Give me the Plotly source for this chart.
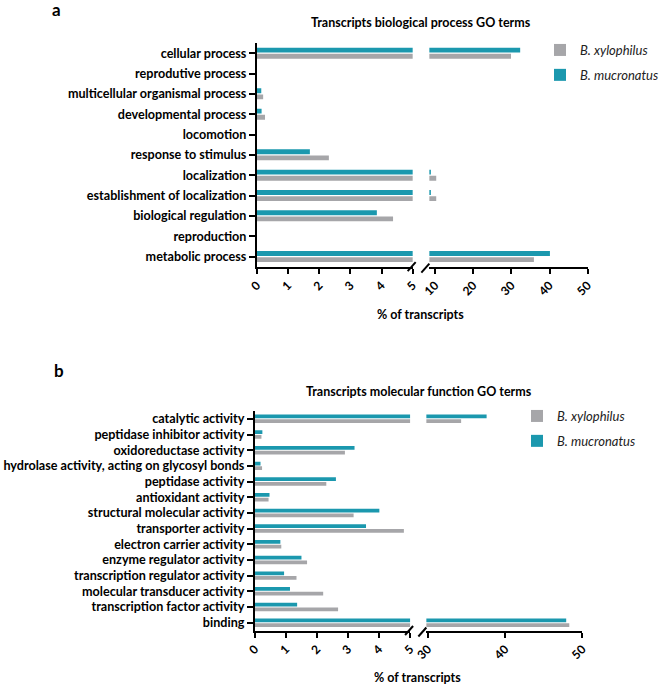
import plotly.graph_objects as go

W, H = 664, 685

# ---------------- data ----------------
bp_terms = ["cellular process", "reprodutive process", "multicellular organismal process",
            "developmental process", "locomotion", "response to stimulus", "localization",
            "establishment of localization", "biological regulation", "reproduction",
            "metabolic process"]
bp_xylophilus = [29.9, 0, 0.20, 0.26, 0, 2.31, 10.3, 10.3, 4.37, 0, 35.9]
bp_mucronatus = [32.3, 0, 0.14, 0.15, 0, 1.70, 8.9, 8.9, 3.85, 0, 40.1]

mf_terms = ["catalytic activity", "peptidase inhibitor activity", "oxidoreductase activity",
            "hydrolase activity, acting on glycosyl bonds", "peptidase activity",
            "antioxidant activity", "structural molecular activity", "transporter activity",
            "electron carrier activity", "enzyme regulator activity",
            "transcription regulator activity", "molecular transducer activity",
            "transcription factor activity", "binding"]
mf_xylophilus = [34.3, 0.21, 2.90, 0.23, 2.30, 0.44, 3.18, 4.80, 0.85, 1.68, 1.34, 2.20, 2.68, 48.3]
mf_mucronatus = [37.6, 0.24, 3.21, 0.18, 2.61, 0.47, 4.01, 3.58, 0.82, 1.50, 0.94, 1.13, 1.36, 47.9]

left_ticks = [0, 1, 2, 3, 4, 5]
bp_right_ticks = [10, 20, 30, 40, 50]
mf_right_ticks = [30, 40, 50]

series_names = ["B. xylophilus", "B. mucronatus"]
series_colors = ["#a6a6a9", "#1b98ae"]

FONT = "Lato"


def px(x):
    return x / W


def py(y):
    return 1 - y / H


fig = go.Figure()

# ---------------- panel a ----------------
for i, (name, vals) in enumerate(zip(series_names, [bp_xylophilus, bp_mucronatus])):
    for xa in ["x", "x2"]:
        fig.add_trace(go.Bar(
            y=bp_terms, x=vals, orientation="h", name=name,
            marker=dict(color=series_colors[i], line=dict(width=0)),
            xaxis=xa, yaxis="y", legend="legend", legendgroup=name,
            showlegend=(xa == "x"), offsetgroup=str(i)))

# ---------------- panel b ----------------
for i, (name, vals) in enumerate(zip(series_names, [mf_xylophilus, mf_mucronatus])):
    for xa in ["x3", "x4"]:
        fig.add_trace(go.Bar(
            y=mf_terms, x=vals, orientation="h", name=name,
            marker=dict(color=series_colors[i], line=dict(width=0)),
            xaxis=xa, yaxis="y2", legend="legend2", legendgroup=name + "b",
            showlegend=(xa == "x3"), offsetgroup=str(i)))

tickfont = dict(family=FONT, size=12, color="black", weight="bold")
catfont = dict(family=FONT, size=12.6, color="black", weight="bold")

xcommon = dict(showline=True, linecolor="black", linewidth=2, ticks="outside",
               ticklen=5, tickwidth=1.5, tickcolor="black", showgrid=False,
               zeroline=False, tickangle=-45, tickfont=tickfont, fixedrange=True)
ycommon = dict(showline=True, linecolor="black", linewidth=2, ticks="outside",
               ticklen=6, tickwidth=2, tickcolor="black", showgrid=False,
               zeroline=False, tickfont=catfont, categoryorder="array", fixedrange=True)

# geometry (pixels in the screenshot)
a_top, a_bot = 43.0, 266.7
b_top, b_bot = 411.0, 630.5
a_x0, a_x5 = 257.3, 413.3
a_r0, a_r1 = 430.0, 588.6
b_x0, b_x5 = 255.3, 410.7
b_r0, b_r1 = 427.0, 583.3

legfont = dict(family=FONT, size=13, color="#222", style="italic")

fig.update_layout(
    width=W, height=H, margin=dict(l=0, r=0, t=0, b=0),
    paper_bgcolor="white", plot_bgcolor="white", template="none",
    barmode="group", bargap=0.4, bargroupgap=0.2,
    xaxis=dict(xcommon, domain=[px(a_x0), px(a_x5)], range=[0, 5], anchor="y",
               tickvals=left_ticks),
    xaxis2=dict(xcommon, domain=[px(a_r0), px(a_r1)], range=[8.5, 50], anchor="y",
                tickvals=bp_right_ticks),
    yaxis=dict(ycommon, domain=[py(a_bot), py(a_top)], anchor="x",
               categoryarray=list(reversed(bp_terms))),
    xaxis3=dict(xcommon, domain=[px(b_x0), px(b_x5)], range=[0, 5], anchor="y2",
                tickvals=left_ticks),
    xaxis4=dict(xcommon, domain=[px(b_r0), px(b_r1)], range=[29.8, 50], anchor="y2",
                tickvals=mf_right_ticks),
    yaxis2=dict(ycommon, domain=[py(b_bot), py(b_top)], anchor="x3",
                categoryarray=list(reversed(mf_terms))),
    legend=dict(x=px(541), y=py(35), xanchor="left", yanchor="top",
                font=legfont, tracegroupgap=5, bgcolor="rgba(0,0,0,0)"),
    legend2=dict(x=px(517), y=py(401), xanchor="left", yanchor="top",
                 font=legfont, tracegroupgap=5, bgcolor="rgba(0,0,0,0)"),
    showlegend=True,
)

# ---------------- annotations ----------------
def ann(text, x, y, size, xanchor="center", bold=True):
    fig.add_annotation(text=text, x=px(x), y=py(y), xref="paper", yref="paper",
                       showarrow=False, xanchor=xanchor, yanchor="middle",
                       font=dict(family=FONT, size=size, color="black",
                                 weight="bold" if bold else "normal"))

ann("a", 50, 10, 17, xanchor="left")
ann("Transcripts biological process GO terms", 422, 22, 12.5)
ann("% of transcripts", 421, 314, 12.5)
ann("b", 52, 370, 17, xanchor="left")
ann("Transcripts molecular function GO terms", 420, 391, 12.5)
ann("% of transcripts", 418, 677, 12.5)

# ---------------- axis-break marks ----------------
def slash(xc, yc):
    fig.add_shape(type="line", xref="paper", yref="paper",
                  x0=px(xc - 4), y0=py(yc + 4.5), x1=px(xc + 4), y1=py(yc - 4.5),
                  line=dict(color="black", width=2))

slash(a_x5 - 1, a_bot)
slash(a_r0 - 4, a_bot + 1.5)
slash(b_x5 - 1, b_bot)
slash(b_r0 - 4, b_bot + 1.5)

fig.write_html("out.html", config={"displayModeBar": False},
               post_script="document.body.style.margin='0px';")
